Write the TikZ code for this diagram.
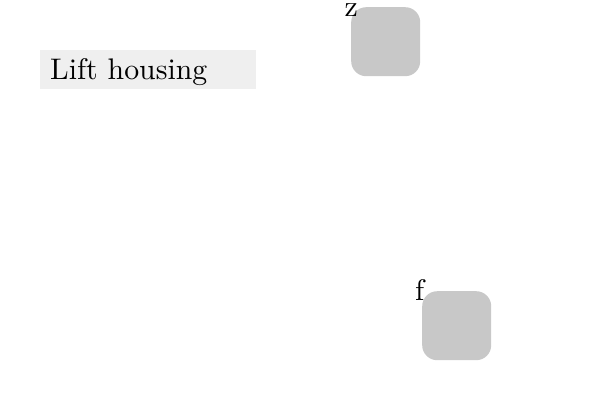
\documentclass[tikz,border=0pt]{standalone}
\usepackage{fontspec}
\setmainfont{lmroman10-regular}[Extension=.otf]
\begin{document}
\begin{tikzpicture}[x=1pt,y=-1pt,
  every node/.style={font=\fontsize{29.8}{35}\selectfont, text=black},
  part/.style={fill={rgb,255:red,200;green,200;blue,200}, rounded corners=15pt, minimum width=69pt, minimum height=69pt, inner sep=0pt, draw=none, anchor=north west},
  housing/.style={fill={rgb,255:red,239;green,239;blue,239}, anchor=north west, minimum width=216pt, text width=196pt, align=left, inner xsep=10pt, inner ysep=0pt, text height=29.3pt, text depth=9.7pt},
  lbl/.style={anchor=base west, inner sep=0pt}]
\useasboundingbox (0,0) rectangle (600,400);
\node[housing] (title) at (40,50) {Lift housing};
\node[part] (zbox) at (351,7) {};
\node[part] (fbox) at (422,291) {};
\node[lbl] (zlab) at (344.5,16.7) {z};
\node[lbl] (flab) at (415,300) {f};
\end{tikzpicture}
\end{document}
